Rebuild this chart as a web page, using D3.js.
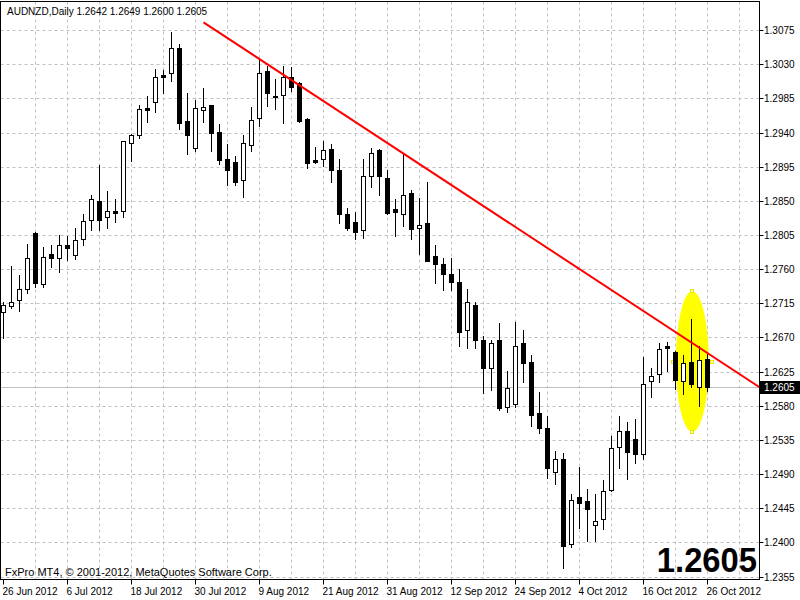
<!DOCTYPE html>
<html><head><meta charset="utf-8">
<script src="https://cdn.jsdelivr.net/npm/d3@7/dist/d3.min.js"></script>
<style>body{margin:0;background:#fff}svg{display:block}text{font-family:"Liberation Sans",Arial,sans-serif}</style>
</head><body><svg id="c" width="800" height="600"></svg>
<script>
const titleText = "AUDNZD,Daily  1.2642 1.2649 1.2600 1.2605";
const copyrightText = "FxPro MT4, \u00A9 2001-2012, MetaQuotes Software Corp.";
const opens  = [1.2704,1.2712,1.2720,1.2734,1.2809,1.2741,1.2781,1.2775,1.2792,1.2780,1.2800,1.2826,1.2850,1.2829,1.2837,1.2837,1.2927,1.2938,1.2973,1.2981,1.3016,1.3019,1.3052,1.2956,1.2920,1.2971,1.2977,1.2941,1.2906,1.2902,1.2878,1.2924,1.2960,1.3022,1.2989,1.2990,1.3014,1.3006,1.2959,1.2904,1.2906,1.2919,1.2892,1.2834,1.2823,1.2812,1.2884,1.2918,1.2881,1.2840,1.2834,1.2861,1.2815,1.2821,1.2778,1.2768,1.2754,1.2744,1.2680,1.2714,1.2667,1.2631,1.2667,1.2579,1.2583,1.2663,1.2638,1.2571,1.2551,1.2493,1.2511,1.2398,1.2460,1.2455,1.2424,1.2431,1.2470,1.2526,1.2548,1.2537,1.2517,1.2613,1.2623,1.2659,1.2652,1.2613,1.2638,1.2605,1.2642];
const highs  = [1.2718,1.2765,1.2753,1.2794,1.2810,1.2790,1.2792,1.2806,1.2805,1.2815,1.2834,1.2858,1.2898,1.2864,1.2853,1.2930,1.2939,1.2977,1.2989,1.3025,1.3023,1.3073,1.3058,1.2993,1.2984,1.3000,1.2977,1.2952,1.2926,1.2910,1.2938,1.2974,1.3039,1.3028,1.3012,1.3028,1.3027,1.3007,1.2960,1.2922,1.2930,1.2926,1.2906,1.2841,1.2836,1.2906,1.2921,1.2919,1.2891,1.2853,1.2913,1.2865,1.2854,1.2876,1.2793,1.2775,1.2775,1.2761,1.2735,1.2718,1.2672,1.2667,1.2690,1.2627,1.2691,1.2681,1.2648,1.2599,1.2567,1.2521,1.2518,1.2465,1.2500,1.2471,1.2465,1.2483,1.2541,1.2567,1.2559,1.2563,1.2645,1.2631,1.2664,1.2665,1.2653,1.2647,1.2695,1.2660,1.2649];
const lows   = [1.2670,1.2709,1.2705,1.2729,1.2737,1.2737,1.2763,1.2757,1.2773,1.2774,1.2793,1.2812,1.2812,1.2815,1.2823,1.2830,1.2903,1.2934,1.2955,1.2968,1.2993,1.3009,1.2946,1.2913,1.2916,1.2955,1.2917,1.2899,1.2871,1.2871,1.2856,1.2917,1.2950,1.2976,1.2972,1.2954,1.2995,1.2955,1.2894,1.2901,1.2897,1.2875,1.2821,1.2812,1.2801,1.2802,1.2869,1.2859,1.2834,1.2805,1.2817,1.2800,1.2781,1.2771,1.2743,1.2733,1.2733,1.2659,1.2657,1.2657,1.2597,1.2601,1.2575,1.2572,1.2579,1.2612,1.2554,1.2545,1.2486,1.2477,1.2367,1.2395,1.2419,1.2402,1.2402,1.2418,1.2469,1.2499,1.2484,1.2505,1.2511,1.2592,1.2612,1.2626,1.2603,1.2596,1.2605,1.2581,1.2600];
const closes = [1.2714,1.2717,1.2734,1.2775,1.2742,1.2777,1.2775,1.2792,1.2788,1.2799,1.2824,1.2853,1.2826,1.2838,1.2835,1.2929,1.2938,1.2972,1.2970,1.3014,1.3014,1.3052,1.2954,1.2938,1.2973,1.2975,1.2940,1.2904,1.2892,1.2876,1.2927,1.2957,1.3019,1.2993,1.2988,1.3014,1.3001,1.2956,1.2900,1.2902,1.2918,1.2891,1.2834,1.2815,1.2810,1.2884,1.2914,1.2884,1.2835,1.2836,1.2859,1.2813,1.2819,1.2772,1.2767,1.2755,1.2744,1.2678,1.2718,1.2668,1.2630,1.2664,1.2578,1.2604,1.2660,1.2637,1.2569,1.2552,1.2498,1.2511,1.2396,1.2457,1.2453,1.2444,1.2429,1.2469,1.2525,1.2547,1.2520,1.2517,1.2610,1.2620,1.2655,1.2657,1.2614,1.2637,1.2609,1.2641,1.2605];
const yTickValues = [1.2355,1.2400,1.2445,1.2490,1.2535,1.2580,1.2625,1.2670,1.2715,1.2760,1.2805,1.2850,1.2895,1.2940,1.2985,1.3030,1.3075];
const xTickBars = [0,8,16,24,32,40,48,56,64,72,80,88];
const xTickLabels = ["26 Jun 2012","6 Jul 2012","18 Jul 2012","30 Jul 2012","9 Aug 2012","21 Aug 2012","31 Aug 2012","12 Sep 2012","24 Sep 2012","4 Oct 2012","16 Oct 2012","26 Oct 2012"];
const trendBars = [25, 86];
const trendPrices = [1.3086, 1.2664];
const ellipseCenter = [86.1, 1.2639];
const ellipseHalf = [2.05, 0.00927];
const lastPrice = 1.2605;
const lastPriceLabel = "1.2605";

const W = 800, H = 600;
const L = 0.5, T = 1.5, R = 759.5, B = 579.5;
const svg = d3.select("#c");
svg.append("rect").attr("width", W).attr("height", H).attr("fill", "#fff");

const x = d3.scaleLinear().domain([0, 88]).range([3.5, 707.5]);
const y = d3.scaleLinear().domain([1.2355, 1.3075]).range([577, 30.7]);
const crisp = v => Math.floor(v) + 0.5;

svg.append("defs").append("clipPath").attr("id", "clip")
  .append("rect").attr("x", 1).attr("y", 2).attr("width", 758).attr("height", 577);
const plot = svg.append("g").attr("clip-path", "url(#clip)");

// grid
const gridBars = d3.range(4, 95, 4);
plot.selectAll("line.vg").data(gridBars).enter().append("line")
  .attr("x1", d => crisp(x(d))).attr("x2", d => crisp(x(d)))
  .attr("y1", T).attr("y2", B)
  .attr("stroke", "#c0c0c0").attr("stroke-dasharray", "3,3");
plot.selectAll("line.hg").data(yTickValues).enter().append("line")
  .attr("x1", L).attr("x2", R)
  .attr("y1", d => crisp(y(d))).attr("y2", d => crisp(y(d)))
  .attr("stroke", "#c0c0c0").attr("stroke-dasharray", "3,3");

// current price line
plot.append("line").attr("x1", L).attr("x2", R)
  .attr("y1", crisp(y(lastPrice))).attr("y2", crisp(y(lastPrice)))
  .attr("stroke", "#c0c0c0");

// ellipse
const ecx = x(ellipseCenter[0]), ecy = y(ellipseCenter[1]);
const erx = x(ellipseCenter[0] + ellipseHalf[0]) - ecx;
const ery = y(ellipseCenter[1] - ellipseHalf[1]) - ecy;
plot.append("ellipse").attr("cx", ecx).attr("cy", ecy).attr("rx", erx).attr("ry", ery)
  .attr("fill", "#ffff00");
const markers = [[ecx, ecy - ery], [ecx, ecy + ery], [ecx - erx - 3, ecy], [ecx + erx + 3, ecy]];
plot.selectAll("rect.mk").data(markers).enter().append("rect")
  .attr("x", d => Math.round(d[0]) - 1.5).attr("y", d => Math.round(d[1]) - 1.5)
  .attr("width", 3).attr("height", 3)
  .attr("fill", "#ffffe0").attr("stroke", "#e8e800");

// candles
const bars = opens.map((o, i) => ({i, o, h: highs[i], l: lows[i], c: closes[i]}));
const cg = plot.append("g");
bars.forEach(d => {
  const cx = x(d.i);
  const yh = Math.round(y(d.h)), yl = Math.round(y(d.l));
  cg.append("line").attr("x1", cx).attr("x2", cx).attr("y1", yh).attr("y2", yl + 1)
    .attr("stroke", "#000").attr("stroke-width", 1);
  const top = Math.round(y(Math.max(d.o, d.c))), bot = Math.round(y(Math.min(d.o, d.c)));
  if (bot - top < 2) {
    cg.append("rect").attr("x", cx - 2.5).attr("y", top).attr("width", 5).attr("height", Math.max(1, bot - top + 1))
      .attr("fill", "#000");
  } else if (d.c >= d.o) {
    cg.append("rect").attr("x", cx - 2).attr("y", top + 0.5).attr("width", 4).attr("height", bot - top)
      .attr("fill", "#fff").attr("stroke", "#000").attr("stroke-width", 1);
  } else {
    cg.append("rect").attr("x", cx - 2.5).attr("y", top).attr("width", 5).attr("height", bot - top + 1)
      .attr("fill", "#000");
  }
});

// trend line (ray)
const slope = (trendPrices[1] - trendPrices[0]) / (trendBars[1] - trendBars[0]);
const endBar = x.invert(R + 2);
plot.append("line")
  .attr("x1", x(trendBars[0])).attr("y1", y(trendPrices[0]))
  .attr("x2", x(endBar)).attr("y2", y(trendPrices[0] + slope * (endBar - trendBars[0])))
  .attr("stroke", "#ff0000").attr("stroke-width", 2);

// big price label
plot.append("text").attr("transform", "translate(757,572) scale(0.91,1)").attr("text-anchor", "end")
  .attr("font-size", 36).attr("font-weight", "bold").attr("fill", "#000")
  .text(lastPriceLabel);

// texts
svg.append("text").attr("x", 7).attr("y", 15).attr("font-size", 10).attr("fill", "#000").text(titleText);
svg.append("text").attr("x", 5).attr("y", 575.5).attr("font-size", 11).attr("fill", "#000").text(copyrightText);

// frame
svg.append("rect").attr("x", L).attr("y", T).attr("width", R - L).attr("height", B - T)
  .attr("fill", "none").attr("stroke", "#000");

// right axis
const ya = svg.append("g");
yTickValues.forEach(v => {
  const yy = crisp(y(v));
  ya.append("line").attr("x1", R).attr("x2", R + 4).attr("y1", yy).attr("y2", yy).attr("stroke", "#000");
  ya.append("text").attr("x", 764).attr("y", yy + 3.5).attr("font-size", 10).attr("fill", "#000").text(d3.format(".4f")(v));
});
const py = crisp(y(lastPrice));
ya.append("rect").attr("x", 760).attr("y", py - 6.5).attr("width", 40).attr("height", 13).attr("fill", "#000");
ya.append("text").attr("x", 764).attr("y", py + 3.5).attr("font-size", 10).attr("fill", "#fff").text(lastPriceLabel);

// bottom axis
const xa = svg.append("g");
xTickBars.forEach((b, k) => {
  const xx = x(b);
  xa.append("line").attr("x1", xx).attr("x2", xx).attr("y1", B).attr("y2", B + 5).attr("stroke", "#000");
  xa.append("text").attr("x", xx - 1).attr("y", 595).attr("font-size", 10).attr("fill", "#000").text(xTickLabels[k]);
});
</script></body></html>
